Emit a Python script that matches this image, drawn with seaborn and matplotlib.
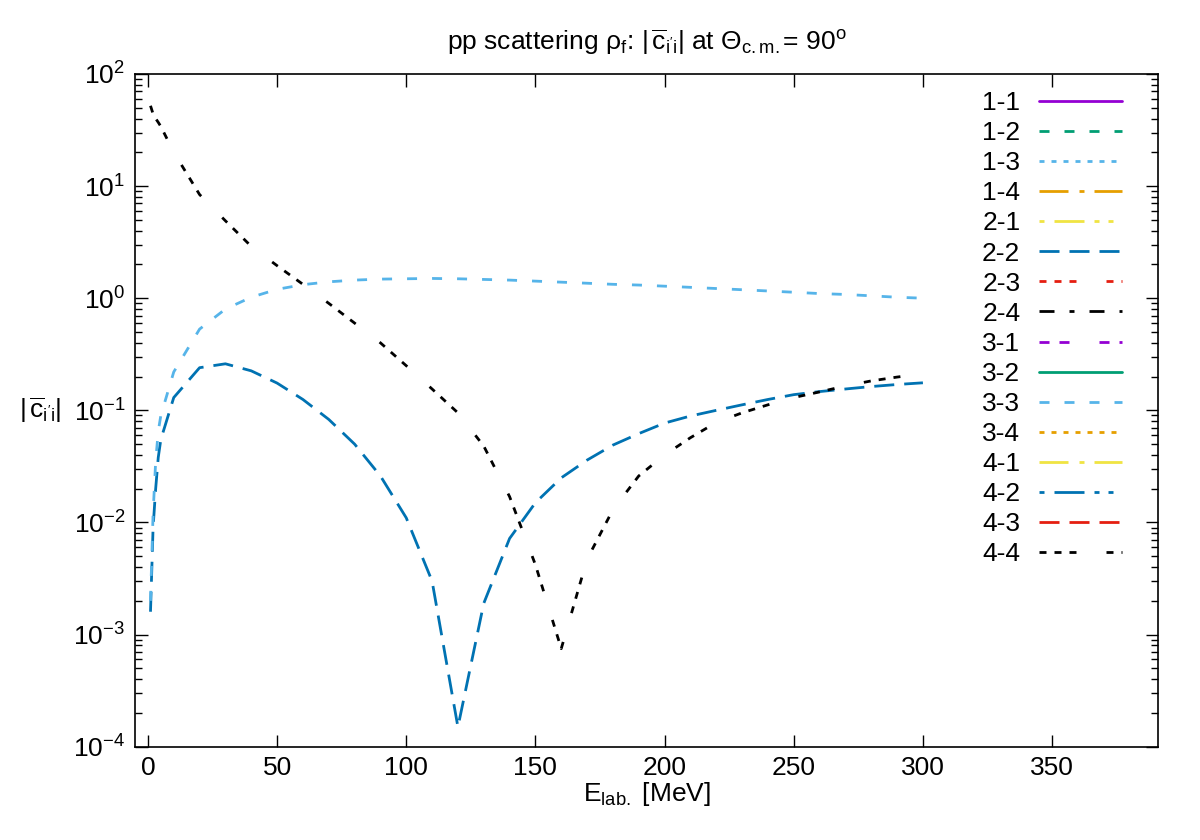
"""pp scattering rho_f: |c_i'i| at 90 deg vs lab energy."""
import matplotlib
matplotlib.use("Agg")
import matplotlib.pyplot as plt
import seaborn as sns
from matplotlib.lines import Line2D
from matplotlib.ticker import LogLocator, NullFormatter, MultipleLocator

# lab energies [MeV]
E = [1, 2, 3, 4, 5, 10, 20, 30, 40, 50, 60, 70, 80, 90, 100, 110, 120, 130,
     140, 150, 160, 170, 180, 190, 200, 210, 220, 230, 240, 250, 260, 270,
     280, 290, 300]

c22 = [0.0016, 0.009, 0.02, 0.038, 0.055, 0.13, 0.24, 0.26, 0.225, 0.175,
       0.125, 0.083, 0.05, 0.026, 0.011, 0.003, 0.00015, 0.0019, 0.0072,
       0.015, 0.025, 0.036, 0.049, 0.062, 0.077, 0.089, 0.10, 0.112, 0.125,
       0.138, 0.147, 0.155, 0.163, 0.17, 0.176]
c33 = [0.002, 0.012, 0.035, 0.065, 0.09, 0.22, 0.53, 0.8, 1.02, 1.2, 1.32,
       1.4, 1.45, 1.48, 1.49, 1.5, 1.49, 1.47, 1.45, 1.42, 1.39, 1.36, 1.33,
       1.31, 1.28, 1.25, 1.22, 1.19, 1.16, 1.13, 1.1, 1.08, 1.05, 1.02, 1.0]
c44 = [52, 44, 40, 37, 34, 20, 8.4, 4.9, 2.9, 1.95, 1.33, 0.9, 0.6, 0.4,
       0.25, 0.155, 0.095, 0.048, 0.017, 0.0042, 0.00075, 0.0047, 0.013,
       0.026, 0.040, 0.057, 0.078, 0.095, 0.112, 0.13, 0.146, 0.165, 0.183,
       0.198, 0.212]

labels = ["1-1", "1-2", "1-3", "1-4", "2-1", "2-2", "2-3", "2-4",
          "3-1", "3-2", "3-3", "3-4", "4-1", "4-2", "4-3", "4-4"]
palette = ["#9400d3", "#009e73", "#56b4e9", "#e69f00",
           "#f0e442", "#0072b2", "#e51e10", "#000000"]
yticks = [1e-4, 1e-3, 1e-2, 1e-1, 1e0, 1e1, 1e2]

# gnuplot dash types, on/off lengths in pixels
DT_PX = [None, [10, 15], [5, 7], [29, 11, 5, 10], [5, 10, 30, 10, 5, 9],
         [20, 10], [7, 8, 7, 8, 7, 30], [15, 15, 5, 15], [10, 10, 10, 30]]


def style(k):
    dt = DT_PX[k % len(DT_PX)]
    ls = "-" if dt is None else (0, [v * 0.72 for v in dt])
    return palette[k % len(palette)], ls


sns.set_theme(style="ticks", rc={"lines.scale_dashes": False})
plt.rcParams["font.family"] = ["Liberation Sans", "DejaVu Sans"]
plt.rcParams["mathtext.fontset"] = "custom"
plt.rcParams["mathtext.rm"] = "Liberation Sans"
plt.rcParams["mathtext.it"] = "Liberation Sans"
plt.rcParams["mathtext.default"] = "regular"
for key in ("text.color", "axes.labelcolor", "xtick.color", "ytick.color",
            "xtick.labelcolor", "ytick.labelcolor"):
    plt.rcParams[key] = "black"

FS = 19

fig = plt.figure(figsize=(12, 8.4), dpi=100)
ax = fig.add_axes([0.1125, 0.111, 0.8525, 0.801])

lw = 2.0
for idx, vals in ((labels.index("2-2"), c22), (labels.index("3-3"), c33),
                  (labels.index("4-4"), c44)):
    col, ls = style(idx)
    sns.lineplot(x=E, y=vals, ax=ax, color=col, linestyle=ls, linewidth=lw)

ax.set_yscale("log")
ax.set_xlim(-5, 391)
ax.set_ylim(1e-4, 1e2)
ax.xaxis.set_major_locator(MultipleLocator(50))
ax.set_yticks(yticks)
ax.yaxis.set_minor_locator(LogLocator(base=10, subs=range(2, 10), numticks=20))
ax.yaxis.set_minor_formatter(NullFormatter())

ax.tick_params(which="both", direction="in", top=True, right=True,
               labelsize=FS, color="black")
ax.tick_params(which="major", length=9, width=1.0, pad=7)
ax.tick_params(which="minor", length=5, width=1.0)
for s in ax.spines.values():
    s.set_color("black")
    s.set_linewidth(1.2)

ax.set_title(r"pp scattering $\rho_\mathrm{f}$: $|\,\overline{\mathrm{c}}_\mathrm{i'i}|$"
             r" at $\Theta_\mathrm{c.m.}$= 90$^\mathrm{o}$", fontsize=FS, pad=17)
ax.set_xlabel(r"$\mathrm{E_{lab.}}$ [MeV]", fontsize=FS, labelpad=0)
ax.set_ylabel(r"$|\,\overline{\mathrm{c}}_\mathrm{i'i}|$", fontsize=FS,
              rotation=0, labelpad=24, va="center")

handles = []
for k, lab in enumerate(labels):
    col, ls = style(k)
    handles.append(Line2D([], [], color=col, linestyle=ls, linewidth=lw, label=lab))
ax.legend(handles=handles, loc="upper right", bbox_to_anchor=(0.975, 0.99),
          frameon=False, markerfirst=False, fontsize=FS, handlelength=3.15,
          handletextpad=0.7, labelspacing=0.23, borderaxespad=0)

fig.savefig("out.png", dpi=100)
